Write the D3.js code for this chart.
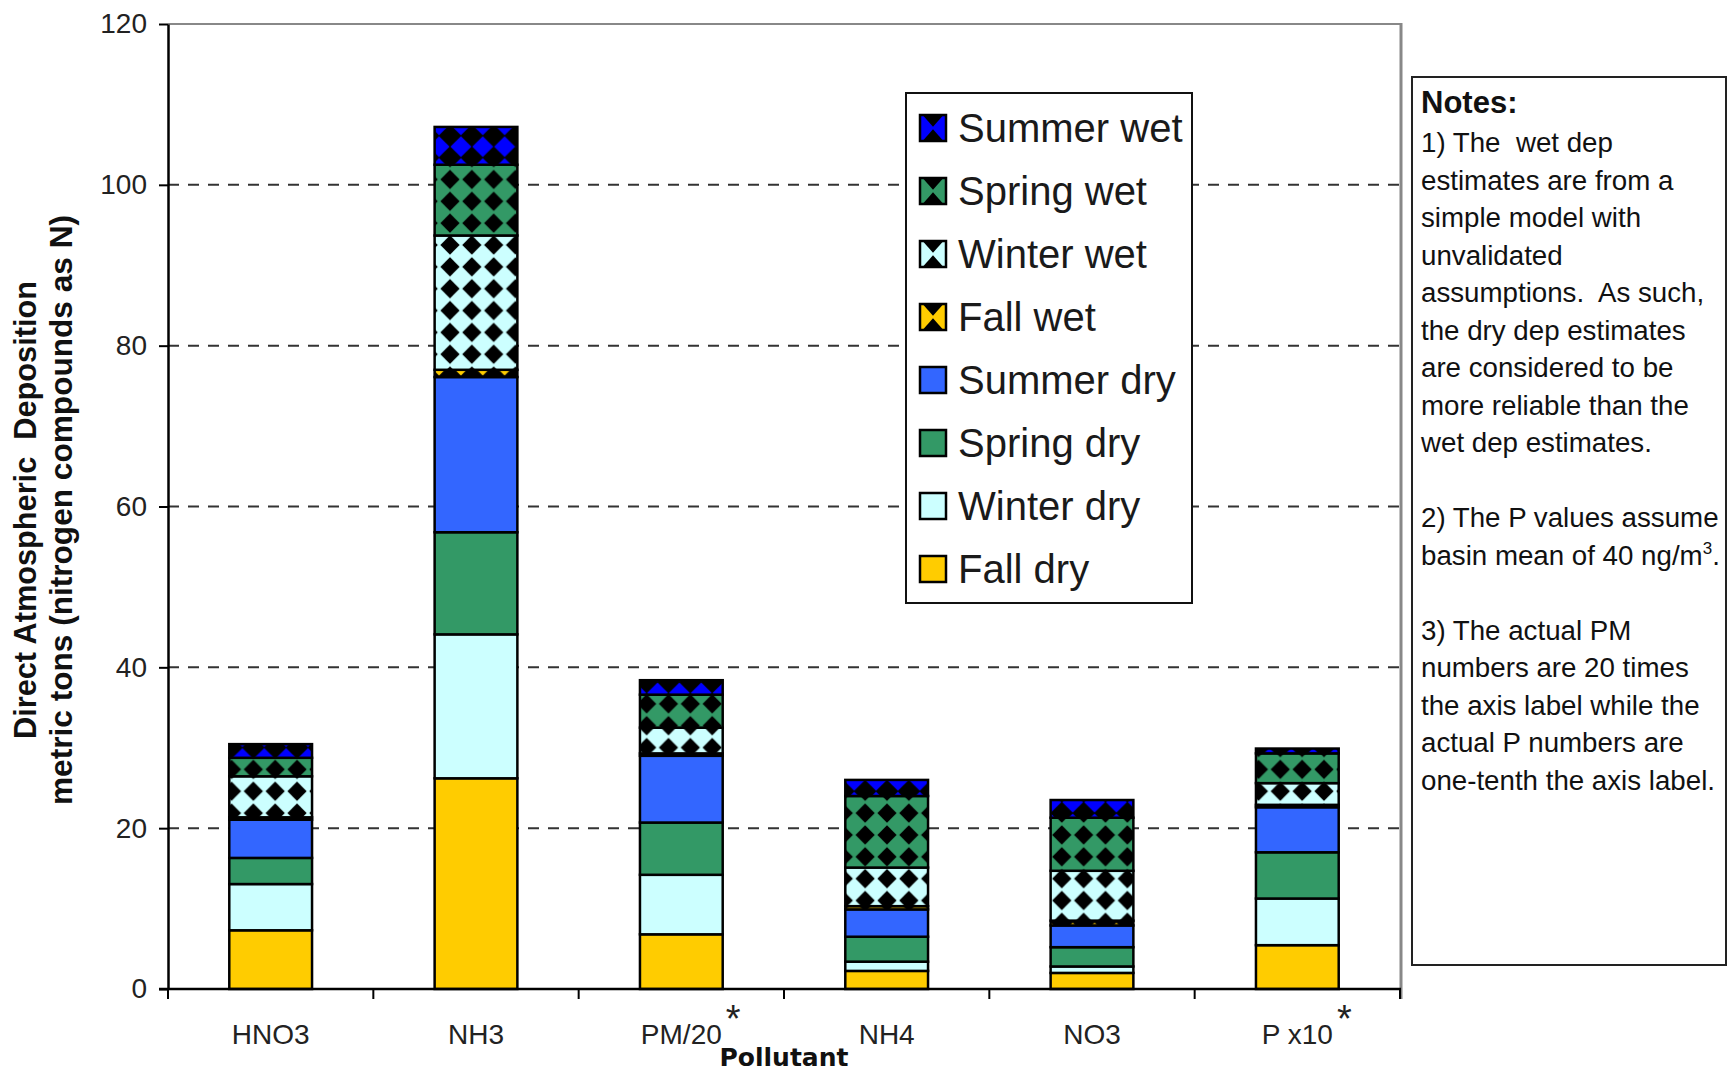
<!DOCTYPE html>
<html><head><meta charset="utf-8">
<script src="https://cdn.jsdelivr.net/npm/d3@7"></script>
<style>
html,body{margin:0;padding:0;background:#fff;}
svg{display:block;font-family:"Liberation Sans",Arial,sans-serif;}
</style>
</head><body>
<svg id="chart" width="1729" height="1073"></svg>
<script>
// ---------- data ----------
const categories = ["HNO3", "NH3", "PM/20", "NH4", "NO3", "P x10"];
const starredCategories = ["PM/20", "P x10"];
const seriesNames = ["Fall dry", "Winter dry", "Spring dry", "Summer dry", "Fall wet", "Winter wet", "Spring wet", "Summer wet"];
const fallDry   = [7.3, 26.2, 6.8, 2.25, 2.0, 5.45];
const winterDry = [5.75, 17.9, 7.4, 1.15, 0.8, 5.8];
const springDry = [3.25, 12.7, 6.5, 3.1, 2.4, 5.75];
const summerDry = [4.75, 19.3, 8.3, 3.4, 2.7, 5.6];
const fallWet   = [0.3, 0.9, 0.3, 0.4, 0.6, 0.3];
const winterWet = [5.1, 16.7, 3.2, 4.8, 6.2, 2.7];
const springWet = [2.3, 8.8, 4.1, 8.9, 6.6, 3.7];
const summerWet = [1.7, 4.7, 1.8, 2.0, 2.2, 0.6];
const yTicks = [0, 20, 40, 60, 80, 100, 120];
const yTitleLines = ["Direct Atmospheric  Deposition", "metric tons (nitrogen compounds as N)"];
const xTitle = "Pollutant";
const notesTitle = "Notes:";
const notesLines = [
  "1) The  wet dep", "estimates are from a", "simple model with", "unvalidated",
  "assumptions.  As such,", "the dry dep estimates", "are considered to be",
  "more reliable than the", "wet dep estimates.", "",
  "2) The P values assume", "basin mean of 40 ng/m^3^.", "",
  "3) The actual PM", "numbers are 20 times", "the axis label while the",
  "actual P numbers are", "one-tenth the axis label."
];

// ---------- styles ----------
const seriesColors = ["#FFCC00", "#CCFFFF", "#339966", "#3366FF", "#FFCC00", "#CCFFFF", "#339966", "#0000FF"];
const wetSeries = ["Fall wet", "Winter wet", "Spring wet", "Summer wet"];
const diamondFrac = {"Fall wet": 0.52, "Winter wet": 0.44, "Spring wet": 0.44, "Summer wet": 0.52};

const valuesBySeries = [fallDry, winterDry, springDry, summerDry, fallWet, winterWet, springWet, summerWet];
const rows = categories.map((c, i) => {
  const r = {category: c};
  seriesNames.forEach((s, k) => r[s] = valuesBySeries[k][i]);
  return r;
});

const svg = d3.select("#chart");
const plot = {left: 168, right: 1400, top: 24, bottom: 989};

const x = d3.scaleBand().domain(categories).range([plot.left, plot.right])
  .paddingInner(0.597).paddingOuter(0.2985);
const y = d3.scaleLinear().domain([0, 120]).range([plot.bottom, plot.top]);
const color = d3.scaleOrdinal().domain(seriesNames).range(seriesColors);

// ---------- patterns ----------
const defs = svg.append("defs");
const P = 21.85;
wetSeries.forEach(s => {
  const id = "pat-" + s.replace(/\s/g, "");
  const h = P * diamondFrac[s];
  const pat = defs.append("pattern").attr("id", id)
    .attr("patternUnits", "userSpaceOnUse")
    .attr("width", P).attr("height", P)
    .attr("x", 450 - P / 2).attr("y", 245 - P / 2);
  pat.append("rect").attr("width", P).attr("height", P).attr("fill", color(s));
  pat.append("polygon")
    .attr("points", [[P/2, P/2 - h], [P/2 + h, P/2], [P/2, P/2 + h], [P/2 - h, P/2]].map(p => p.join(",")).join(" "))
    .attr("fill", "#000");
  // legend swatch pattern (bow-tie look)
  const lp = defs.append("pattern").attr("id", id + "-lg")
    .attr("patternUnits", "objectBoundingBox").attr("patternContentUnits", "objectBoundingBox")
    .attr("width", 1).attr("height", 1);
  lp.append("rect").attr("width", 1).attr("height", 1).attr("fill", color(s));
  lp.append("polygon").attr("points", "0.1,0 0.9,0 0.5,0.45").attr("fill", "#000");
  lp.append("polygon").attr("points", "0.1,1 0.9,1 0.5,0.55").attr("fill", "#000");
});
const fillFor = (s, legend) => wetSeries.includes(s)
  ? `url(#pat-${s.replace(/\s/g, "")}${legend ? "-lg" : ""})` : color(s);

// ---------- gridlines ----------
svg.append("g").selectAll("line")
  .data(yTicks.filter(v => v > 0 && v < 120))
  .join("line")
  .attr("x1", plot.left).attr("x2", plot.right)
  .attr("y1", d => y(d)).attr("y2", d => y(d))
  .attr("stroke", "#333").attr("stroke-width", 2).attr("stroke-dasharray", "11,9");

// ---------- frame (top & right) ----------
svg.append("line").attr("x1", plot.left).attr("x2", plot.right)
  .attr("y1", y(120)).attr("y2", y(120)).attr("stroke", "#888").attr("stroke-width", 2);
svg.append("line").attr("x1", plot.right + 1).attr("x2", plot.right + 1)
  .attr("y1", y(120) - 1).attr("y2", plot.bottom + 10).attr("stroke", "#888").attr("stroke-width", 3);

// ---------- bars ----------
const stacked = d3.stack().keys(seriesNames)(rows);
const layer = svg.append("g").selectAll("g").data(stacked).join("g");
layer.selectAll("rect")
  .data(d => d.map(v => ({key: d.key, v})))
  .join("rect")
  .attr("x", d => x(d.v.data.category))
  .attr("width", x.bandwidth())
  .attr("y", d => y(d.v[1]))
  .attr("height", d => y(d.v[0]) - y(d.v[1]))
  .attr("fill", d => fillFor(d.key, false))
  .attr("stroke", "#000").attr("stroke-width", 2.5);

// ---------- y axis ----------
const yAxis = svg.append("g").attr("transform", `translate(${plot.left},0)`)
  .call(d3.axisLeft(y).tickValues(yTicks).tickSize(9).tickSizeOuter(0).tickPadding(12));
yAxis.select(".domain").attr("stroke", "#000").attr("stroke-width", 2.5);
yAxis.selectAll(".tick line").attr("stroke", "#000").attr("stroke-width", 2);
yAxis.selectAll(".tick text").attr("font-size", 28).attr("fill", "#222")
  .attr("font-family", "'Liberation Sans', Arial, sans-serif");

// ---------- x axis ----------
const xAxis = svg.append("g").attr("transform", `translate(0,${plot.bottom})`)
  .call(d3.axisBottom(x).tickSize(0).tickSizeOuter(0).tickPadding(35));
xAxis.select(".domain").remove();
svg.append("line").attr("x1", plot.left - 9).attr("x2", plot.right + 1)
  .attr("y1", plot.bottom).attr("y2", plot.bottom).attr("stroke", "#000").attr("stroke-width", 2.5);
xAxis.selectAll(".tick text").attr("font-size", 28).attr("fill", "#222")
  .attr("font-family", "'Liberation Sans', Arial, sans-serif");
const half = (x.step() - x.bandwidth()) / 2;
const bounds = categories.map(c => x(c) - half).concat([x(categories[categories.length - 1]) + x.bandwidth() + half]);
svg.append("g").selectAll("line").data(bounds).join("line")
  .attr("x1", d => d).attr("x2", d => d)
  .attr("y1", plot.bottom).attr("y2", plot.bottom + 10)
  .attr("stroke", "#000").attr("stroke-width", 2);
// asterisks
xAxis.selectAll(".tick").each(function(c) {
  if (!starredCategories.includes(c)) return;
  const t = d3.select(this).select("text");
  const w = t.node().getComputedTextLength();
  d3.select(this).append("text").text("*")
    .attr("x", w / 2 + 4).attr("y", 43)
    .attr("font-size", 38).attr("fill", "#222").attr("text-anchor", "start")
    .attr("font-family", "'Liberation Sans', Arial, sans-serif");
});

// ---------- axis titles ----------
svg.append("text").text(xTitle)
  .attr("x", (plot.left + plot.right) / 2).attr("y", 1066)
  .attr("text-anchor", "middle").attr("font-weight", "bold").attr("font-size", 25)
  .attr("font-family", "'DejaVu Sans', Verdana, sans-serif").attr("fill", "#111");
const yTitleX = [35.5, 72];
const yTitleLen = [458, 590];
yTitleLines.forEach((t, i) => {
  svg.append("text").text(t)
    .attr("transform", `translate(${yTitleX[i]},510) rotate(-90)`)
    .attr("text-anchor", "middle").attr("font-weight", "bold").attr("font-size", 31)
    .attr("textLength", yTitleLen[i]).attr("lengthAdjust", "spacingAndGlyphs")
    .style("white-space", "pre").attr("fill", "#111");
});

// ---------- legend ----------
const lg = svg.append("g");
lg.append("rect").attr("x", 906).attr("y", 93).attr("width", 286).attr("height", 510)
  .attr("fill", "#fff").attr("stroke", "#111").attr("stroke-width", 2);
const legendOrder = seriesNames.slice().reverse();
const li = lg.selectAll("g.item").data(legendOrder).join("g").attr("class", "item")
  .attr("transform", (d, i) => `translate(0,${128 + i * 63})`);
li.append("rect").attr("x", 920).attr("y", -13).attr("width", 26).attr("height", 26)
  .attr("fill", d => fillFor(d, true)).attr("stroke", "#000").attr("stroke-width", 2.5);
li.append("text").text(d => d).attr("x", 958).attr("y", 14)
  .attr("font-size", 40).attr("fill", "#1a1a1a");

// ---------- notes ----------
const ng = svg.append("g");
ng.append("rect").attr("x", 1412).attr("y", 77).attr("width", 314).attr("height", 888)
  .attr("fill", "#fff").attr("stroke", "#222").attr("stroke-width", 2);
ng.append("text").text(notesTitle).attr("x", 1421).attr("y", 113)
  .attr("font-weight", "bold").attr("font-size", 31).attr("fill", "#111");
notesLines.forEach((line, i) => {
  const t = ng.append("text").attr("x", 1421).attr("y", 152 + i * 37.5)
    .attr("font-size", 27.7).attr("fill", "#111").style("white-space", "pre");
  const parts = line.split("^");
  parts.forEach((p, k) => {
    const ts = t.append("tspan").text(p);
    if (k % 2 === 1) ts.attr("font-size", 17).attr("dy", -11);
    else if (k > 0) ts.attr("font-size", 27.7).attr("dy", 11);
  });
});
</script>
</body></html>
